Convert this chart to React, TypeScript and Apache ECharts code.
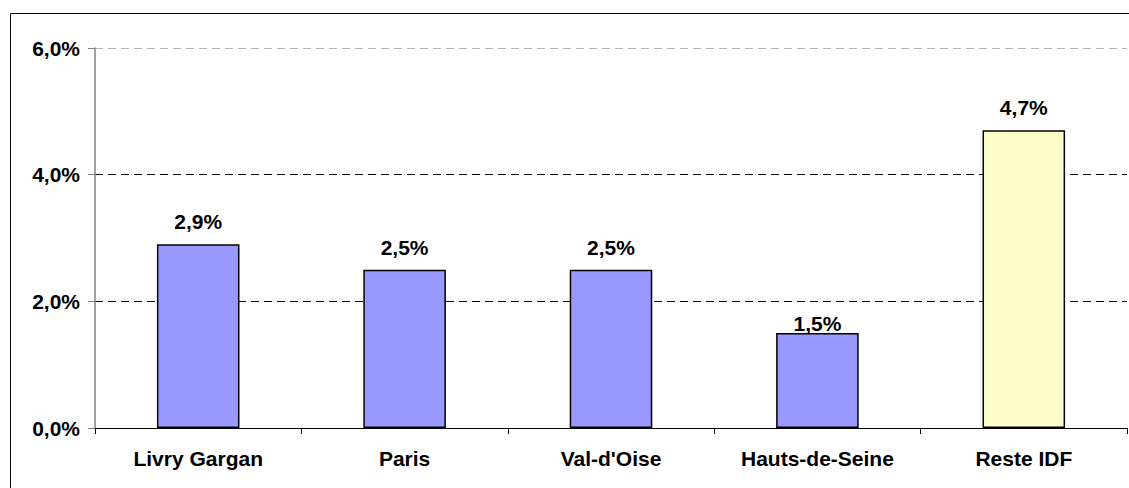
import React, { useEffect, useRef } from "react";
import * as echarts from "echarts";

const categories = ["Livry Gargan", "Paris", "Val-d'Oise", "Hauts-de-Seine", "Reste IDF"];
const values = [2.9, 2.5, 2.5, 1.5, 4.7];
const barColors = ["#9999FF", "#9999FF", "#9999FF", "#9999FF", "#FFFFCC"];
const labelDistances = [12, 12, 12, -1, 12];
const yTicks = [0, 2, 4, 6];

const FONT = "'Liberation Sans', Arial, sans-serif";
const FS = 21;

export default function App() {
  const ref = useRef<HTMLDivElement>(null);
  useEffect(() => {
    document.body.style.margin = "0";
    const chart = echarts.init(ref.current!, null, { renderer: "svg" });
    const fmt = (v: number) => v.toFixed(1).replace(".", ",") + "%";
    chart.setOption({
      animation: false,
      backgroundColor: "#ffffff",
      textStyle: { fontFamily: FONT },
      graphic: [
        {
          type: "rect",
          shape: { x: 10.5, y: 13.5, width: 1200, height: 600 },
          style: { fill: "none", stroke: "#000", lineWidth: 1 },
          silent: true,
        },
      ],
      grid: { left: 95, right: 2, top: 48, bottom: 60, containLabel: false },
      xAxis: {
        type: "category",
        data: categories,
        axisLine: { lineStyle: { color: "#000", width: 1 } },
        axisTick: { show: true, length: 6, lineStyle: { color: "#000" }, alignWithLabel: false },
        axisLabel: {
          color: "#000",
          fontSize: FS,
          fontWeight: "bold",
          fontFamily: FONT,
          margin: 20,
          interval: 0,
        },
      },
      yAxis: {
        type: "value",
        min: yTicks[0],
        max: yTicks[yTicks.length - 1],
        interval: 2,
        axisLine: { show: true, lineStyle: { color: "#808080", width: 1.5 } },
        axisTick: { show: true, length: 7, lineStyle: { color: "#808080" } },
        axisLabel: {
          color: "#000",
          fontSize: FS,
          fontWeight: "bold",
          fontFamily: FONT,
          margin: 15,
          formatter: (v: number) => fmt(v),
        },
        splitLine: {
          show: true,
          lineStyle: {
            color: ["#000", "#000", "#000", "#b4b4b4"],
            type: [8, 5],
            width: 1,
          },
        },
      },
      series: [
        {
          type: "bar",
          barWidth: "40%",
          data: values.map((v, i) => ({
            value: v,
            itemStyle: { color: barColors[i], borderColor: "#000", borderWidth: 1.5 },
            label: { distance: labelDistances[i] },
          })),
          label: {
            show: true,
            position: "top",
            color: "#000",
            fontSize: FS,
            fontWeight: "bold",
            fontFamily: FONT,
            formatter: (p: any) => fmt(p.value),
          },
        },
      ],
    });
    return () => chart.dispose();
  }, []);
  return <div ref={ref} style={{ width: 1129, height: 488, position: "absolute", left: 0, top: 0 }} />;
}
